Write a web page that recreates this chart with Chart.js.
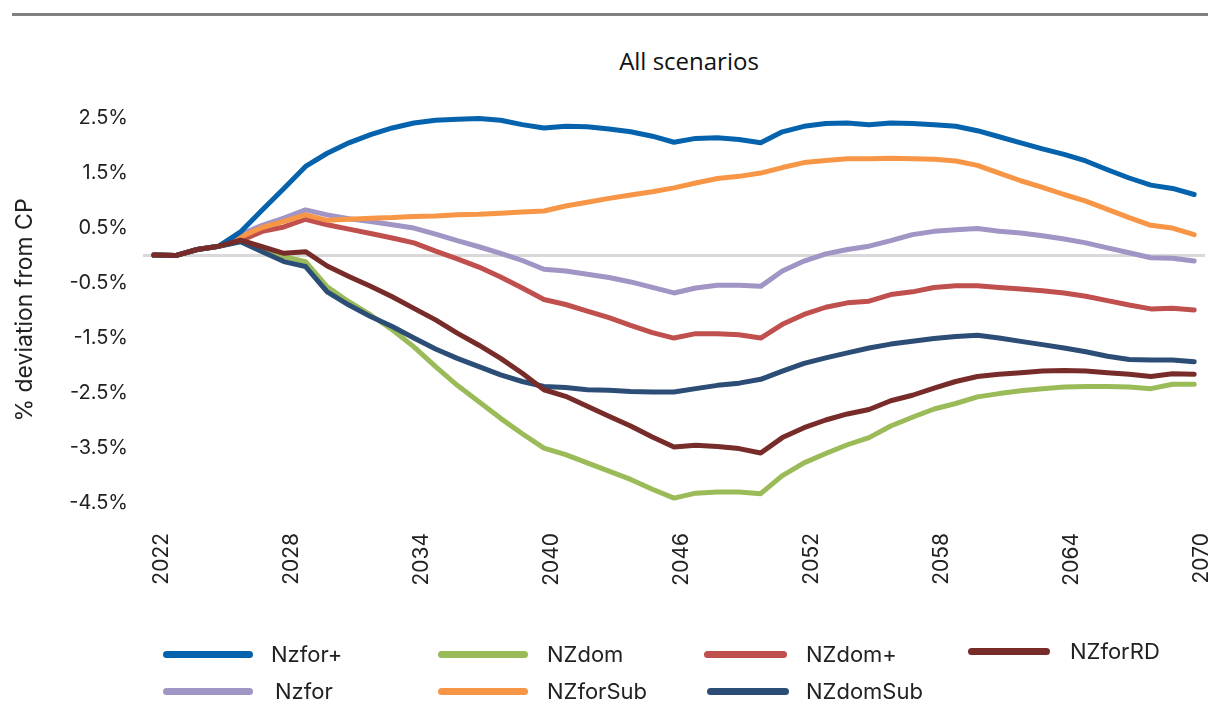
<!DOCTYPE html>
<html>
<head>
<meta charset="utf-8">
<script src="https://cdn.jsdelivr.net/npm/chart.js@4.4.1/dist/chart.umd.min.js"></script>
<style>
  html, body { margin: 0; padding: 0; background: #fff; }
  #wrap { position: relative; width: 1208px; height: 718px; overflow: hidden; font-family: Inter, sans-serif; color: #222; }
  #rule { position: absolute; left: 12px; right: 0; top: 13px; height: 3px; background: #808080; }
  #title { position: absolute; left: 489px; width: 400px; top: 46px; line-height: 30px; text-align: center; font-family: "Open Sans", sans-serif; font-size: 24px; color: #111; }
  #chart { position: absolute; left: 0; top: 0; }
  .lg-line { position: absolute; height: 7px; border-radius: 4px; }
  .lg-text { position: absolute; font-size: 22px; line-height: 26px; color: #222; white-space: nowrap; }
</style>
</head>
<body>
<div id="wrap">
  <div id="rule"></div>
  <div id="title">All scenarios</div>
  <canvas id="chart" width="1208" height="718"></canvas>
  <div id="legend"></div>
</div>
<script>
// years on the category axis, 2022..2070
const years = [];
for (let y = 2022; y <= 2070; y++) years.push(String(y));

const xTickYears = ['2022', '2028', '2034', '2040', '2046', '2052', '2058', '2064', '2070'];
const yTickValues = [-4.5, -3.5, -2.5, -1.5, -0.5, 0, 0.5, 1.5, 2.5];

// % deviation from CP, one value per year
const nzforPlus = [0, -0.01, 0.1, 0.16, 0.42, 0.82, 1.21, 1.61, 1.85, 2.04,
  2.19, 2.31, 2.4, 2.45, 2.47, 2.48, 2.45, 2.37, 2.31, 2.34,
  2.33, 2.29, 2.24, 2.16, 2.05, 2.12, 2.13, 2.1, 2.04, 2.24,
  2.34, 2.39, 2.4, 2.37, 2.4, 2.39, 2.37, 2.34, 2.26, 2.15,
  2.04, 1.93, 1.83, 1.71, 1.55, 1.4, 1.27, 1.21, 1.1];
const nzfor = [0, -0.01, 0.1, 0.16, 0.37, 0.54, 0.67, 0.82, 0.73, 0.66,
  0.61, 0.55, 0.49, 0.38, 0.26, 0.15, 0.03, -0.1, -0.26, -0.29,
  -0.35, -0.41, -0.49, -0.59, -0.69, -0.6, -0.55, -0.55, -0.57, -0.29,
  -0.11, 0.02, 0.1, 0.16, 0.26, 0.37, 0.43, 0.46, 0.48, 0.43,
  0.4, 0.35, 0.29, 0.22, 0.13, 0.04, -0.05, -0.06, -0.11];
const nzdom = [0, -0.01, 0.1, 0.16, 0.25, 0.08, -0.03, -0.12, -0.58, -0.85,
  -1.09, -1.36, -1.67, -2.03, -2.37, -2.67, -2.97, -3.25, -3.51, -3.63,
  -3.78, -3.93, -4.08, -4.26, -4.42, -4.33, -4.31, -4.31, -4.34, -4.01,
  -3.78, -3.61, -3.45, -3.32, -3.11, -2.95, -2.8, -2.7, -2.58, -2.52,
  -2.47, -2.43, -2.4, -2.39, -2.39, -2.4, -2.43, -2.35, -2.35];
const nzforSub = [0, -0.01, 0.1, 0.16, 0.33, 0.5, 0.61, 0.73, 0.63, 0.65,
  0.67, 0.68, 0.7, 0.71, 0.73, 0.74, 0.76, 0.78, 0.8, 0.89,
  0.96, 1.03, 1.09, 1.15, 1.22, 1.31, 1.39, 1.43, 1.49, 1.59,
  1.68, 1.72, 1.75, 1.75, 1.76, 1.75, 1.74, 1.71, 1.63, 1.49,
  1.35, 1.23, 1.1, 0.98, 0.83, 0.68, 0.54, 0.49, 0.37];
const nzdomPlus = [0, -0.01, 0.1, 0.16, 0.26, 0.43, 0.51, 0.65, 0.55, 0.47,
  0.39, 0.31, 0.22, 0.07, -0.07, -0.22, -0.4, -0.6, -0.81, -0.9,
  -1.02, -1.14, -1.28, -1.41, -1.51, -1.43, -1.43, -1.45, -1.51, -1.26,
  -1.08, -0.95, -0.87, -0.84, -0.72, -0.67, -0.59, -0.56, -0.56, -0.59,
  -0.62, -0.65, -0.69, -0.75, -0.83, -0.91, -0.98, -0.97, -1.0];
const nzdomSub = [0, -0.01, 0.1, 0.16, 0.24, 0.06, -0.12, -0.21, -0.67, -0.91,
  -1.12, -1.3, -1.51, -1.71, -1.88, -2.03, -2.18, -2.3, -2.39, -2.41,
  -2.45, -2.46, -2.48, -2.49, -2.49, -2.43, -2.37, -2.33, -2.26, -2.11,
  -1.97, -1.87, -1.78, -1.69, -1.62, -1.57, -1.52, -1.48, -1.46, -1.51,
  -1.57, -1.63, -1.69, -1.76, -1.84, -1.9, -1.91, -1.91, -1.94];
const nzforRD = [0, -0.01, 0.1, 0.16, 0.27, 0.15, 0.03, 0.06, -0.2, -0.39,
  -0.57, -0.76, -0.97, -1.18, -1.42, -1.64, -1.88, -2.15, -2.45, -2.57,
  -2.75, -2.93, -3.11, -3.31, -3.49, -3.46, -3.48, -3.52, -3.6, -3.32,
  -3.14, -3.0, -2.89, -2.81, -2.65, -2.55, -2.42, -2.3, -2.21, -2.17,
  -2.14, -2.11, -2.1, -2.11, -2.14, -2.17, -2.21, -2.16, -2.17];

// legend order; 'order' sets the drawing stack (lower = on top)
const series = [
  { label: 'Nzfor+',   data: nzforPlus, color: '#0563AD', order: 1 },
  { label: 'NZdom',    data: nzdom,     color: '#9BBB59', order: 4 },
  { label: 'NZdom+',   data: nzdomPlus, color: '#C0504D', order: 5 },
  { label: 'NZforRD',  data: nzforRD,   color: '#772C2A', order: 0 },
  { label: 'Nzfor',    data: nzfor,     color: '#A095C4', order: 6 },
  { label: 'NZforSub', data: nzforSub,  color: '#F79646', order: 2 },
  { label: 'NZdomSub', data: nzdomSub,  color: '#2C4D75', order: 3 }
];

// where each legend entry sits (line start, line length, text start, row centre)
const legendSlots = [
  { x: 163, w: 90, tx: 271, cy: 654 },
  { x: 438, w: 90, tx: 547, cy: 654 },
  { x: 704, w: 83, tx: 806, cy: 654 },
  { x: 968, w: 82, tx: 1070, cy: 651 },
  { x: 163, w: 90, tx: 275, cy: 691 },
  { x: 438, w: 90, tx: 547, cy: 691 },
  { x: 707, w: 82, tx: 806, cy: 691 }
];

const ctx = document.getElementById('chart').getContext('2d');
const chart = new Chart(ctx, {
    type: 'line',
    data: {
        labels: years,
        datasets: series.map(s => ({
            label: s.label,
            data: s.data,
            borderColor: s.color,
            backgroundColor: s.color,
            borderWidth: 5,
            pointRadius: 0,
            tension: 0,
            borderJoinStyle: 'round',
            borderCapStyle: 'round',
            order: s.order
        }))
    },
    options: {
        responsive: false,
        animation: false,
        layout: {
            padding: { top: 90, right: 3, bottom: 108, left: 0 }
        },
        plugins: {
            legend: { display: false },
            tooltip: { enabled: false }
        },
        scales: {
            x: {
                offset: true,
                grid: { display: false, drawTicks: false },
                border: { display: false },
                ticks: {
                    autoSkip: false,
                    minRotation: 90,
                    maxRotation: 90,
                    padding: 3,
                    labelOffset: 8,
                    color: '#222',
                    font: { family: 'Inter', size: 21 },
                    callback: function(value) {
                        const lbl = this.getLabelForValue(value);
                        return xTickYears.includes(lbl) ? lbl : '';
                    }
                },
                afterFit: function(scale) {
                    scale.height = 80;
                    scale.paddingLeft = 0;
                    scale.paddingRight = 0;
                }
            },
            y: {
                min: -5,
                max: 3,
                afterBuildTicks: function(scale) {
                    scale.ticks = yTickValues.map(v => ({ value: v }));
                },
                afterFit: function(scale) {
                    scale.width = 143;
                },
                grid: {
                    drawTicks: false,
                    lineWidth: 3,
                    color: function(c) {
                        return c.tick && c.tick.value === 0 ? '#D9D9D9' : 'rgba(0,0,0,0)';
                    }
                },
                border: { display: false },
                ticks: {
                    padding: 15,
                    color: '#222',
                    font: { family: 'Inter', size: 20 },
                    callback: function(value) {
                        return value === 0 ? '' : value.toFixed(1) + '%';
                    }
                },
                title: {
                    display: true,
                    text: '% deviation from CP',
                    color: '#222',
                    font: { family: 'Inter', size: 23 },
                    padding: { top: 11, bottom: 0 }
                }
            }
        }
    }
});

function buildLegend() {
    const box = document.getElementById('legend');
    series.forEach((s, i) => {
        const slot = legendSlots[i];
        const line = document.createElement('div');
        line.className = 'lg-line';
        line.style.left = slot.x + 'px';
        line.style.width = slot.w + 'px';
        line.style.top = (slot.cy - 3.5) + 'px';
        line.style.background = s.color;

        const text = document.createElement('div');
        text.className = 'lg-text';
        text.style.left = slot.tx + 'px';
        text.style.top = (slot.cy - 13) + 'px';
        text.textContent = s.label;

        box.appendChild(line);
        box.appendChild(text);
    });
}

buildLegend();
</script>
</body>
</html>
